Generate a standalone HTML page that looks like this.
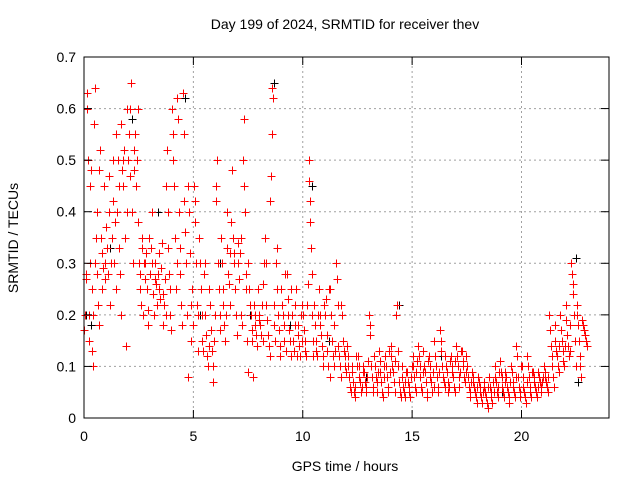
<!DOCTYPE html>
<html><head><meta charset="utf-8"><style>
body{margin:0;background:#fff}
svg{display:block;font-family:"Liberation Sans",sans-serif}
</style></head><body>
<svg id="chart" width="640" height="480" viewBox="0 0 640 480" xmlns="http://www.w3.org/2000/svg">
<rect width="640" height="480" fill="#fff"/>
<text x="345" y="29" font-size="14" text-anchor="middle">Day 199 of 2024, SRMTID for receiver thev</text>
<text transform="translate(18,238) rotate(-90)" font-size="14" text-anchor="middle">SRMTID / TECUs</text>
<text x="345" y="471" font-size="14" text-anchor="middle">GPS time / hours</text>
<g id="grid"></g><g id="marksB" shape-rendering="crispEdges"></g><g id="marksR" shape-rendering="crispEdges"></g><g id="axes"></g>
</svg>
<script>
const xTicks=[0,5,10,15,20];
const yTicks=[0,0.1,0.2,0.3,0.4,0.5,0.6,0.7];
const yTickLabels=["0","0.1","0.2","0.3","0.4","0.5","0.6","0.7"];
const binStart=0, binWidth=0.25;
const redBins=[
[0.17,0.2,0.27,0.28,0.6,0.63,0.5,0.2,0.15],
[0.3,0.45,0.48,0.25,0.13,0.1,0.2,0.57,0.64],
[0.3,0.35,0.4,0.28,0.22,0.18,0.48,0.52],
[0.35,0.32,0.25,0.29,0.45,0.27,0.3],
[0.37,0.33,0.28,0.4,0.47,0.22,0.3],
[0.35,0.5,0.42,0.3,0.38,0.25,0.55],
[0.4,0.5,0.45,0.33,0.28,0.2,0.57,0.48],
[0.45,0.5,0.52,0.35,0.14,0.4,0.6],
[0.5,0.55,0.47,0.6,0.65,0.4,0.3],
[0.52,0.48,0.55,0.45,0.5,0.38,0.6],
[0.3,0.28,0.25,0.22,0.33,0.35,0.2,0.3],
[0.3,0.27,0.32,0.25,0.18,0.21,0.35],
[0.28,0.33,0.4,0.3,0.24,0.2,0.27],
[0.3,0.26,0.22,0.28,0.32,0.25,0.23],
[0.29,0.34,0.24,0.18,0.22,0.27,0.2],
[0.45,0.52,0.4,0.33,0.28,0.25,0.2,0.17],
[0.6,0.5,0.55,0.45,0.35,0.25,0.3],
[0.62,0.58,0.4,0.33,0.28,0.22,0.18],
[0.63,0.55,0.42,0.36,0.3,0.2,0.08],
[0.45,0.4,0.32,0.22,0.15,0.25,0.18],
[0.45,0.42,0.38,0.3,0.22,0.2,0.13],
[0.35,0.3,0.25,0.2,0.15,0.13,0.28],
[0.3,0.2,0.16,0.12,0.1,0.25,0.14],
[0.22,0.17,0.13,0.1,0.07,0.15,0.2],
[0.42,0.45,0.5,0.3,0.25,0.2,0.17],
[0.35,0.3,0.25,0.22,0.18,0.15,0.2],
[0.4,0.33,0.28,0.26,0.22,0.32,0.38],
[0.48,0.35,0.3,0.32,0.25,0.2,0.16],
[0.34,0.3,0.27,0.32,0.35,0.2,0.18],
[0.5,0.58,0.45,0.4,0.28,0.25,0.15,0.09],
[0.3,0.25,0.22,0.2,0.17,0.15,0.08],
[0.22,0.2,0.18,0.16,0.14,0.25,0.19],
[0.2,0.18,0.16,0.22,0.26,0.15,0.3],
[0.35,0.3,0.22,0.19,0.16,0.14,0.12],
[0.42,0.47,0.55,0.64,0.62,0.22,0.18,0.15],
[0.3,0.33,0.25,0.2,0.17,0.14,0.12],
[0.25,0.22,0.2,0.18,0.15,0.28,0.13],
[0.28,0.23,0.2,0.17,0.15,0.12,0.25],
[0.2,0.15,0.13,0.18,0.22,0.25,0.12],
[0.18,0.16,0.14,0.12,0.2,0.15,0.22],
[0.2,0.17,0.15,0.13,0.12,0.22,0.26],
[0.5,0.46,0.42,0.38,0.33,0.28,0.2,0.15,0.12],
[0.22,0.18,0.15,0.13,0.12,0.2,0.25],
[0.2,0.18,0.16,0.14,0.1,0.12,0.22],
[0.2,0.23,0.16,0.13,0.1,0.25,0.08],
[0.25,0.2,0.15,0.12,0.1,0.18,0.13],
[0.3,0.27,0.22,0.14,0.12,0.1,0.08],
[0.22,0.2,0.15,0.13,0.12,0.1,0.09],
[0.14,0.12,0.1,0.08,0.06,0.05,0.1],
[0.09,0.07,0.05,0.04,0.06,0.12,0.1],
[0.12,0.1,0.08,0.07,0.05,0.06,0.09],
[0.1,0.09,0.07,0.06,0.05,0.08,0.11],
[0.2,0.18,0.16,0.1,0.08,0.06,0.05],
[0.12,0.1,0.08,0.07,0.05,0.09,0.13],
[0.11,0.09,0.07,0.05,0.04,0.08,0.1],
[0.12,0.1,0.08,0.06,0.05,0.13,0.09],
[0.14,0.12,0.1,0.09,0.07,0.05,0.11],
[0.2,0.22,0.13,0.1,0.07,0.05,0.04],
[0.1,0.08,0.06,0.05,0.04,0.07,0.09],
[0.09,0.07,0.06,0.05,0.04,0.08,0.1],
[0.12,0.1,0.08,0.06,0.05,0.09,0.11],
[0.14,0.12,0.1,0.08,0.06,0.05,0.09],
[0.13,0.1,0.09,0.07,0.05,0.04,0.11],
[0.12,0.1,0.08,0.07,0.05,0.09,0.06],
[0.15,0.12,0.1,0.08,0.06,0.05,0.09],
[0.17,0.15,0.13,0.1,0.08,0.07,0.06],
[0.12,0.1,0.09,0.07,0.05,0.06,0.11],
[0.12,0.1,0.09,0.08,0.06,0.05,0.11],
[0.14,0.12,0.1,0.08,0.06,0.09,0.13],
[0.13,0.11,0.1,0.08,0.07,0.12,0.09],
[0.1,0.08,0.06,0.05,0.04,0.07,0.09],
[0.08,0.07,0.06,0.05,0.04,0.03,0.06],
[0.08,0.07,0.06,0.05,0.04,0.03,0.05],
[0.07,0.06,0.05,0.04,0.03,0.02,0.06],
[0.08,0.06,0.05,0.04,0.03,0.07,0.05],
[0.1,0.08,0.07,0.05,0.04,0.06,0.09],
[0.11,0.09,0.08,0.06,0.05,0.04,0.07],
[0.09,0.08,0.06,0.05,0.04,0.03,0.07],
[0.1,0.09,0.07,0.06,0.05,0.04,0.08],
[0.14,0.12,0.08,0.06,0.05,0.04,0.1],
[0.1,0.08,0.06,0.05,0.04,0.03,0.07],
[0.12,0.1,0.08,0.06,0.05,0.04,0.09],
[0.09,0.08,0.07,0.06,0.05,0.04,0.06],
[0.09,0.08,0.07,0.06,0.05,0.07,0.08],
[0.1,0.09,0.08,0.07,0.06,0.05,0.08],
[0.2,0.17,0.14,0.12,0.1,0.08,0.06],
[0.18,0.15,0.13,0.12,0.1,0.09,0.14],
[0.2,0.17,0.15,0.13,0.11,0.1,0.14],
[0.22,0.19,0.16,0.14,0.12,0.13,0.18],
[0.3,0.28,0.26,0.24,0.2,0.15,0.1],
[0.22,0.2,0.18,0.15,0.12,0.1,0.08],
[0.19,0.18,0.17,0.16,0.15,0.14]
];
const blackT=[0.1,0.3,1.2,2.2,3.4,4.6,5.3,6.2,7.6,8.7,9.4,10.4,11.2,12.9,14.4,16.3,19.1,21.6,22.5,22.6];
const blackV=[0.2,0.18,0.33,0.58,0.4,0.62,0.2,0.3,0.2,0.65,0.18,0.45,0.15,0.08,0.22,0.12,0.05,0.12,0.31,0.07];

const X0=84,X1=609,Y0=418,Y1=57,XMAX=24,YMAX=0.7;
const xs=v=>X0+(v/XMAX)*(X1-X0);
const ys=v=>Y0-(v/YMAX)*(Y0-Y1);
const NS="http://www.w3.org/2000/svg";
function mk(tag,attrs,parent){const e=document.createElementNS(NS,tag);for(const k in attrs)e.setAttribute(k,attrs[k]);parent.appendChild(e);return e;}
const grid=document.getElementById('grid'),axes=document.getElementById('axes');
yTicks.forEach((v,i)=>{
  const y=ys(v);
  if(v>0&&v<YMAX){const g=mk('line',{x1:X0,x2:X1,y1:y,y2:y,stroke:'#a0a0a0','stroke-dasharray':'2,3'},grid);
  
  }
  mk('line',{x1:X0,x2:X0+8,y1:y,y2:y,stroke:'#000'},axes);
  mk('line',{x1:X1,x2:X1-8,y1:y,y2:y,stroke:'#000'},axes);
  const t=mk('text',{x:X0-8,y:y+5,'font-size':14,'text-anchor':'end'},axes);
  t.textContent=yTickLabels[i];
  
  
});
xTicks.forEach(v=>{
  const x=xs(v);
  if(v>0){const g=mk('line',{x1:x,x2:x,y1:Y0,y2:Y1,stroke:'#a0a0a0','stroke-dasharray':'2,3'},grid);
  
  }
  mk('line',{x1:x,x2:x,y1:Y0,y2:Y0-8,stroke:'#000'},axes);
  mk('line',{x1:x,x2:x,y1:Y1,y2:Y1+8,stroke:'#000'},axes);
  const t=mk('text',{x:x,y:Y0+23,'font-size':14,'text-anchor':'middle'},axes);
  t.textContent=String(v);
  
  
});
const frame=mk('rect',{x:X0,y:Y1,width:X1-X0,height:Y0-Y1,fill:'none',stroke:'#000'},axes);


function plus(x,y,col,parent){
  const px=Math.round(x)+0.5, py=Math.round(y)+0.5;
  return mk('path',{d:`M${px-4},${py}h8M${px},${py-4}v8`,stroke:col,'stroke-width':1,fill:'none'},parent);
}
const mb=document.getElementById('marksB');
blackT.forEach((t,i)=>{
  const p=plus(xs(t),ys(blackV[i]),'#000',mb);
  
  
});
const mr=document.getElementById('marksR');
redBins.forEach((vals,b)=>{
  vals.forEach((v,i)=>{
    const t=binStart+b*binWidth+(i+0.5)/vals.length*binWidth;
    const p=plus(xs(t),ys(v),'#ff0000',mr);
    
    
  });
});
</script>
</body></html>
